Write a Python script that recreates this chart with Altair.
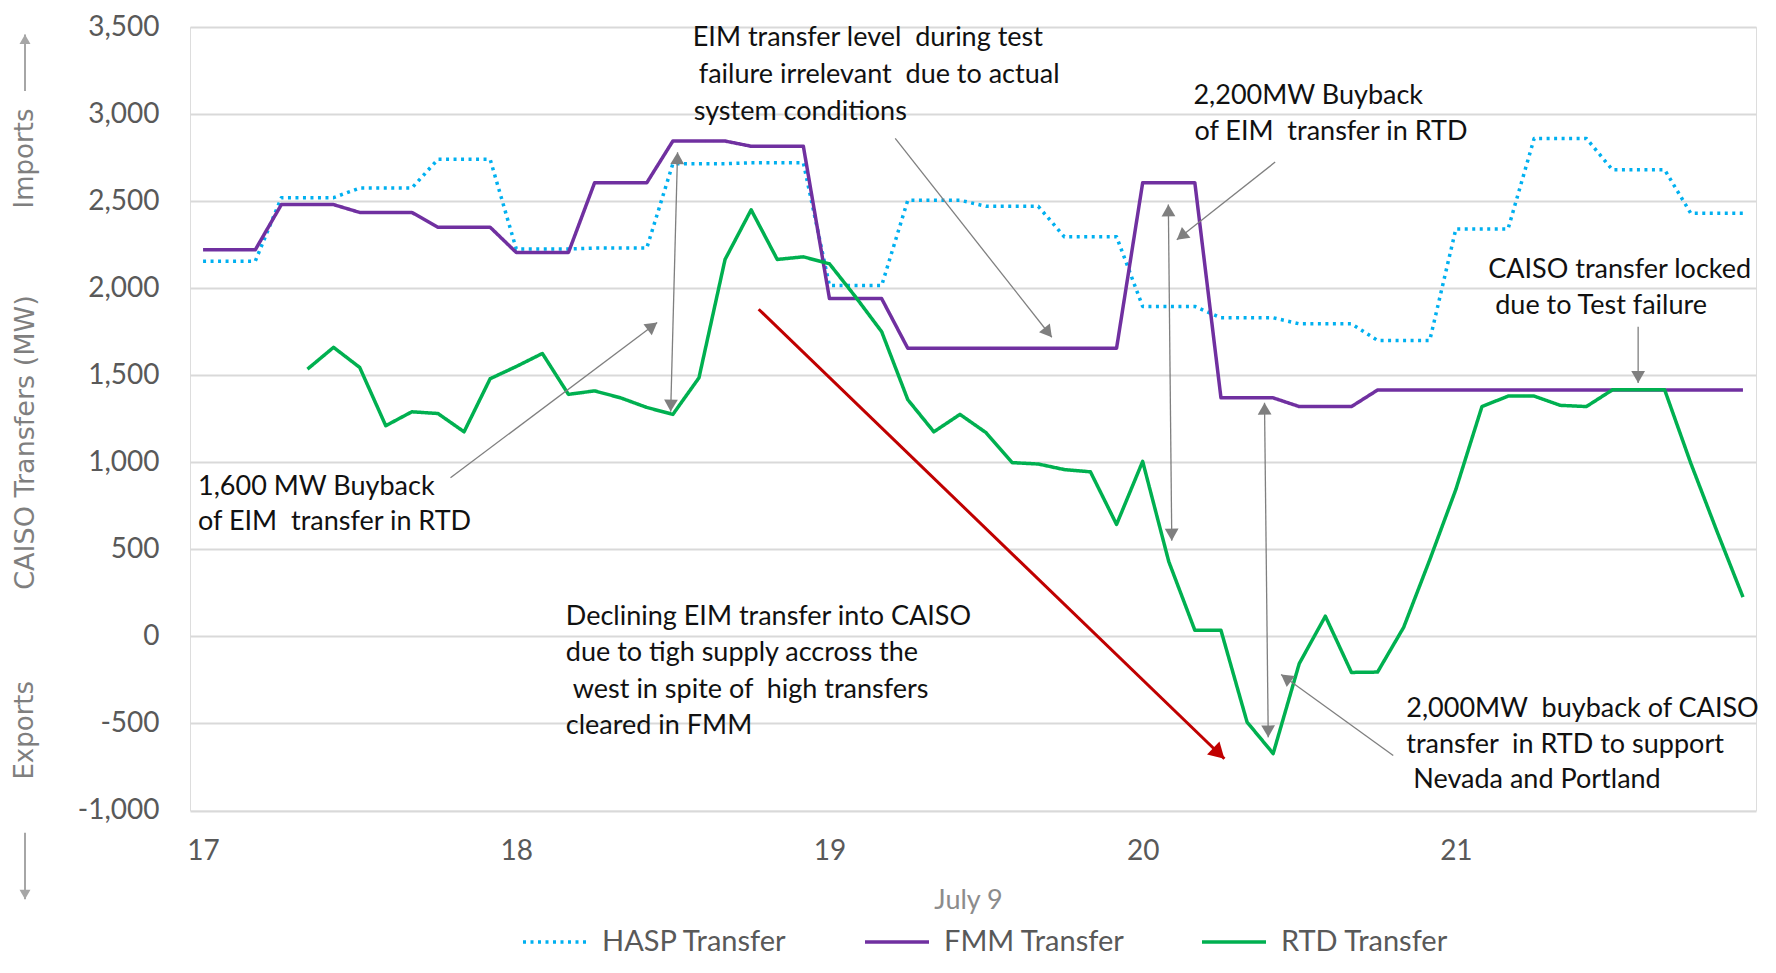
import math
import altair as alt
import pandas as pd

# ---------------- data ----------------
TIMES = [
    "17:00", "17:05", "17:10", "17:15", "17:20", "17:25", "17:30", "17:35", "17:40", "17:45", "17:50", "17:55",
    "18:00", "18:05", "18:10", "18:15", "18:20", "18:25", "18:30", "18:35", "18:40", "18:45", "18:50", "18:55",
    "19:00", "19:05", "19:10", "19:15", "19:20", "19:25", "19:30", "19:35", "19:40", "19:45", "19:50", "19:55",
    "20:00", "20:05", "20:10", "20:15", "20:20", "20:25", "20:30", "20:35", "20:40", "20:45", "20:50", "20:55",
    "21:00", "21:05", "21:10", "21:15", "21:20", "21:25", "21:30", "21:35", "21:40", "21:45", "21:50", "21:55",
]

HASP = [2155, 2155, 2155, 2520, 2520, 2520, 2575, 2575, 2575, 2740, 2740, 2740,
        2225, 2225, 2225, 2230, 2230, 2230, 2715, 2715, 2715, 2720, 2720, 2720,
        2015, 2015, 2015, 2505, 2505, 2505, 2470, 2470, 2470, 2295, 2295, 2295,
        1895, 1895, 1895, 1830, 1830, 1830, 1795, 1795, 1795, 1700, 1700, 1700,
        2340, 2340, 2340, 2860, 2860, 2860, 2680, 2680, 2680, 2430, 2430, 2430]

FMM = [2220, 2220, 2220, 2480, 2480, 2480, 2435, 2435, 2435, 2350, 2350, 2350,
       2205, 2205, 2205, 2605, 2605, 2605, 2845, 2845, 2845, 2815, 2815, 2815,
       1940, 1940, 1940, 1655, 1655, 1655, 1655, 1655, 1655, 1655, 1655, 1655,
       2605, 2605, 2605, 1370, 1370, 1370, 1320, 1320, 1320, 1415, 1415, 1415,
       1415, 1415, 1415, 1415, 1415, 1415, 1415, 1415, 1415, 1415, 1415, 1415]

RTD = [None, None, None, None, 1535, 1660, 1545, 1210, 1290, 1280, 1175, 1480,
       1550, 1625, 1390, 1410, 1370, 1315, 1275, 1485, 2165, 2450, 2165, 2180,
       2140, 1950, 1750, 1360, 1175, 1275, 1170, 998, 990, 958, 945, 643,
       1005, 430, 35, 35, -492, -673, -156, 116, -207, -205, 52, 440,
       844, 1320, 1380, 1380, 1327, 1320, 1416, 1416, 1416, 995, 605, 226]

SERIES = ["HASP Transfer", "FMM Transfer", "RTD Transfer"]
COLORS = ["#00b0f0", "#7030a0", "#00b050"]
X_TICKS = [17, 18, 19, 20, 21]
Y_TICKS = [-1000, -500, 0, 500, 1000, 1500, 2000, 2500, 3000, 3500]

# annotation text lines: (x in hours, y in MW, text)
NOTE_X = [18.5635, 18.5827, 18.5667, 20.1621, 20.1653, 21.1034, 21.1257,
          16.984, 16.984, 18.1583, 18.1583, 18.1806, 18.1583, 20.8417, 20.8417, 20.864]
NOTE_Y = [3434, 3223, 3013, 3104, 2896, 2107, 1899,
          860, 655, 114, -97, -308, -513, -416, -622, -827]
NOTE_TEXT = ["EIM transfer level  during test", "failure irrelevant  due to actual", "system conditions",
             "2,200MW Buyback", "of EIM  transfer in RTD",
             "CAISO transfer locked", "due to Test failure",
             "1,600 MW Buyback", "of EIM  transfer in RTD",
             "Declining EIM transfer into CAISO", "due to tigh supply accross the",
             "west in spite of  high transfers", "cleared in FMM",
             "2,000MW  buyback of CAISO", "transfer  in RTD to support", "Nevada and Portland"]

# gray annotation arrows: start, end, both heads?
ARROW_X1 = [17.790, 18.515, 19.210, 20.423, 20.082, 20.389, 20.800, 21.582]
ARROW_Y1 = [911, 2781, 2860, 2724, 2481, 1342, -684, 1778]
ARROW_X2 = [18.450, 18.493, 19.710, 20.109, 20.093, 20.401, 20.442, 21.582]
ARROW_Y2 = [1803, 1291, 1718, 2278, 550, -580, -219, 1456]
ARROW_BOTH = [False, True, False, False, True, True, False, False]

# red trend arrow
RED_X = [18.774, 20.261]
RED_Y = [1879, -703]

# axis-side labels
SIDE_TEXT = ["Imports", "Exports"]
SIDE_Y = [2745, -539]
SIDE_ARROW_Y1 = [3132, -1128]
SIDE_ARROW_Y2 = [3457, -1510]

# ---------------- geometry ----------------
W, H = 1566, 783.5
X_DOMAIN = [16.9583, 21.9583]
Y_DOMAIN = [-1000, 3500]
PXH = W / (X_DOMAIN[1] - X_DOMAIN[0])
PXV = H / (Y_DOMAIN[1] - Y_DOMAIN[0])

hours = [int(t.split(":")[0]) + int(t.split(":")[1]) / 60 for t in TIMES]
rows = []
for name, vals in zip(SERIES, [HASP, FMM, RTD]):
    for h, v in zip(hours, vals):
        if v is not None:
            rows.append({"x": h, "y": v, "series": name})
df = pd.DataFrame(rows)


def head(x1, y1, x2, y2, size):
    dx = (x2 - x1) * PXH
    dy = -(y2 - y1) * PXV
    L = math.hypot(dx, dy)
    ux, uy = dx / L, dy / L
    ang = math.degrees(math.atan2(dx, -dy)) % 360
    h = math.sqrt(3) / 2 * math.sqrt(size) / 2
    return {"x": x2 - h * ux / PXH, "y": y2 + h * uy / PXV, "angle": ang}


GRAY_HEAD = 190
RED_HEAD = 320
arrow_df = pd.DataFrame({"x": ARROW_X1, "y": ARROW_Y1, "x2": ARROW_X2, "y2": ARROW_Y2})
heads = []
for x1, y1, x2, y2, both in zip(ARROW_X1, ARROW_Y1, ARROW_X2, ARROW_Y2, ARROW_BOTH):
    heads.append(head(x1, y1, x2, y2, GRAY_HEAD))
    if both:
        heads.append(head(x2, y2, x1, y1, GRAY_HEAD))
heads_df = pd.DataFrame(heads)

red_df = pd.DataFrame({"x": [RED_X[0]], "y": [RED_Y[0]], "x2": [RED_X[1]], "y2": [RED_Y[1]]})
red_head_df = pd.DataFrame([head(RED_X[0], RED_Y[0], RED_X[1], RED_Y[1], RED_HEAD)])

# keep the doubled spaces of the original visible (non-breaking space)
notes_df = pd.DataFrame({"x": NOTE_X, "y": NOTE_Y,
                         "text": [t.replace("  ", " \u00a0") for t in NOTE_TEXT]})

side_df = pd.DataFrame({"y": SIDE_Y, "text": SIDE_TEXT})
side_arrow_df = pd.DataFrame({"y": SIDE_ARROW_Y1, "y2": SIDE_ARROW_Y2})
SIDE_HEAD = 120
side_heads = []
for y1, y2 in zip(SIDE_ARROW_Y1, SIDE_ARROW_Y2):
    hh = math.sqrt(3) / 2 * math.sqrt(SIDE_HEAD) / 2
    sgn = 1 if y2 > y1 else -1
    side_heads.append({"y": y2 - sgn * hh / PXV, "angle": 0 if sgn > 0 else 180})
side_heads_df = pd.DataFrame(side_heads)

# ---------------- scales & axes ----------------
xs = alt.Scale(domain=X_DOMAIN, nice=False, zero=False)
ys = alt.Scale(domain=Y_DOMAIN, nice=False, zero=False)

AX_X = alt.Axis(values=X_TICKS, format="d", title="July 9", grid=False, domain=False, ticks=False,
                tickSize=0, labelFont="Lato", labelFontSize=28, labelColor="#595959",
                labelPadding=27, titleFont="Lato", titleFontSize=27, titleFontWeight="normal",
                titleColor="#8c8c8c", titleY=90, titleX=778, titleBaseline="middle")
AX_Y = alt.Axis(values=Y_TICKS, title="CAISO Transfers (MW)", grid=True, gridColor="#d9d9d9",
                gridWidth=2, domain=False, ticks=False, tickSize=0,
                labelExpr="(datum.value < 0 ? '-' : '') + format(abs(datum.value), ',')",
                labelFont="Lato", labelFontSize=28, labelColor="#595959", labelPadding=31,
                titleFont="DejaVu Sans", titleFontSize=27, titleFontWeight="normal",
                titleColor="#7f7f7f", titleX=-165, titleY=415, titleAngle=270,
                titleAlign="center", titleBaseline="middle")

X = alt.X("x:Q", scale=xs, axis=AX_X)
Y = alt.Y("y:Q", scale=ys, axis=AX_Y)

LEG = alt.Legend(title=None, orient="none", legendX=331, legendY=881, direction="horizontal",
                 symbolType="stroke", symbolSize=4096, symbolStrokeWidth=3.5,
                 labelFont="Lato", labelFontSize=29, labelColor="#595959", labelOffset=13,
                 columnPadding=70, labelLimit=400)

lines = alt.Chart(df).mark_line(strokeWidth=3.5, strokeJoin="round").encode(
    x=X, y=Y,
    color=alt.Color("series:N", scale=alt.Scale(domain=SERIES, range=COLORS), legend=LEG),
    strokeDash=alt.StrokeDash("series:N",
                              scale=alt.Scale(domain=SERIES, range=[[3, 4.5], [1, 0], [1, 0]]),
                              legend=LEG),
)

gray_rules = alt.Chart(arrow_df).mark_rule(color="#7f7f7f", strokeWidth=1.3).encode(
    x=X, y=Y, x2="x2:Q", y2="y2:Q")
gray_heads = alt.Chart(heads_df).mark_point(shape="triangle-up", filled=True, size=GRAY_HEAD,
                                            color="#7f7f7f", opacity=1).encode(
    x=X, y=Y, angle=alt.Angle("angle:Q", scale=None))

red_rule = alt.Chart(red_df).mark_rule(color="#c00000", strokeWidth=3).encode(
    x=X, y=Y, x2="x2:Q", y2="y2:Q")
red_head = alt.Chart(red_head_df).mark_point(shape="triangle-up", filled=True, size=RED_HEAD,
                                             color="#c00000", opacity=1).encode(
    x=X, y=Y, angle=alt.Angle("angle:Q", scale=None))

notes = alt.Chart(notes_df).mark_text(align="left", baseline="middle", font="Lato", fontSize=27,
                                      color="#111111").encode(x=X, y=Y, text="text:N")

side_text = alt.Chart(side_df).mark_text(angle=270, align="center", baseline="middle",
                                         font="DejaVu Sans", fontSize=26, color="#7f7f7f").encode(
    x=alt.value(-165), y=Y, text="text:N")
side_rules = alt.Chart(side_arrow_df).mark_rule(color="#a6a6a6", strokeWidth=2).encode(
    x=alt.value(-165), y=Y, y2="y2:Q")
side_heads_mark = alt.Chart(side_heads_df).mark_point(shape="triangle-up", filled=True,
                                                      size=SIDE_HEAD, color="#a6a6a6",
                                                      opacity=1).encode(
    x=alt.value(-165), y=Y, angle=alt.Angle("angle:Q", scale=None))

chart = alt.layer(
    lines, gray_rules, gray_heads, red_rule, red_head, notes, side_rules, side_heads_mark, side_text
).properties(
    width=W, height=H,
    autosize=alt.AutoSizeParams(type="none"),
    padding={"left": 182, "top": 19, "right": 12, "bottom": 147.5},
).configure_view(stroke=None).configure(background="white")

chart.save("out.html", embed_options={"renderer": "svg", "actions": False})
